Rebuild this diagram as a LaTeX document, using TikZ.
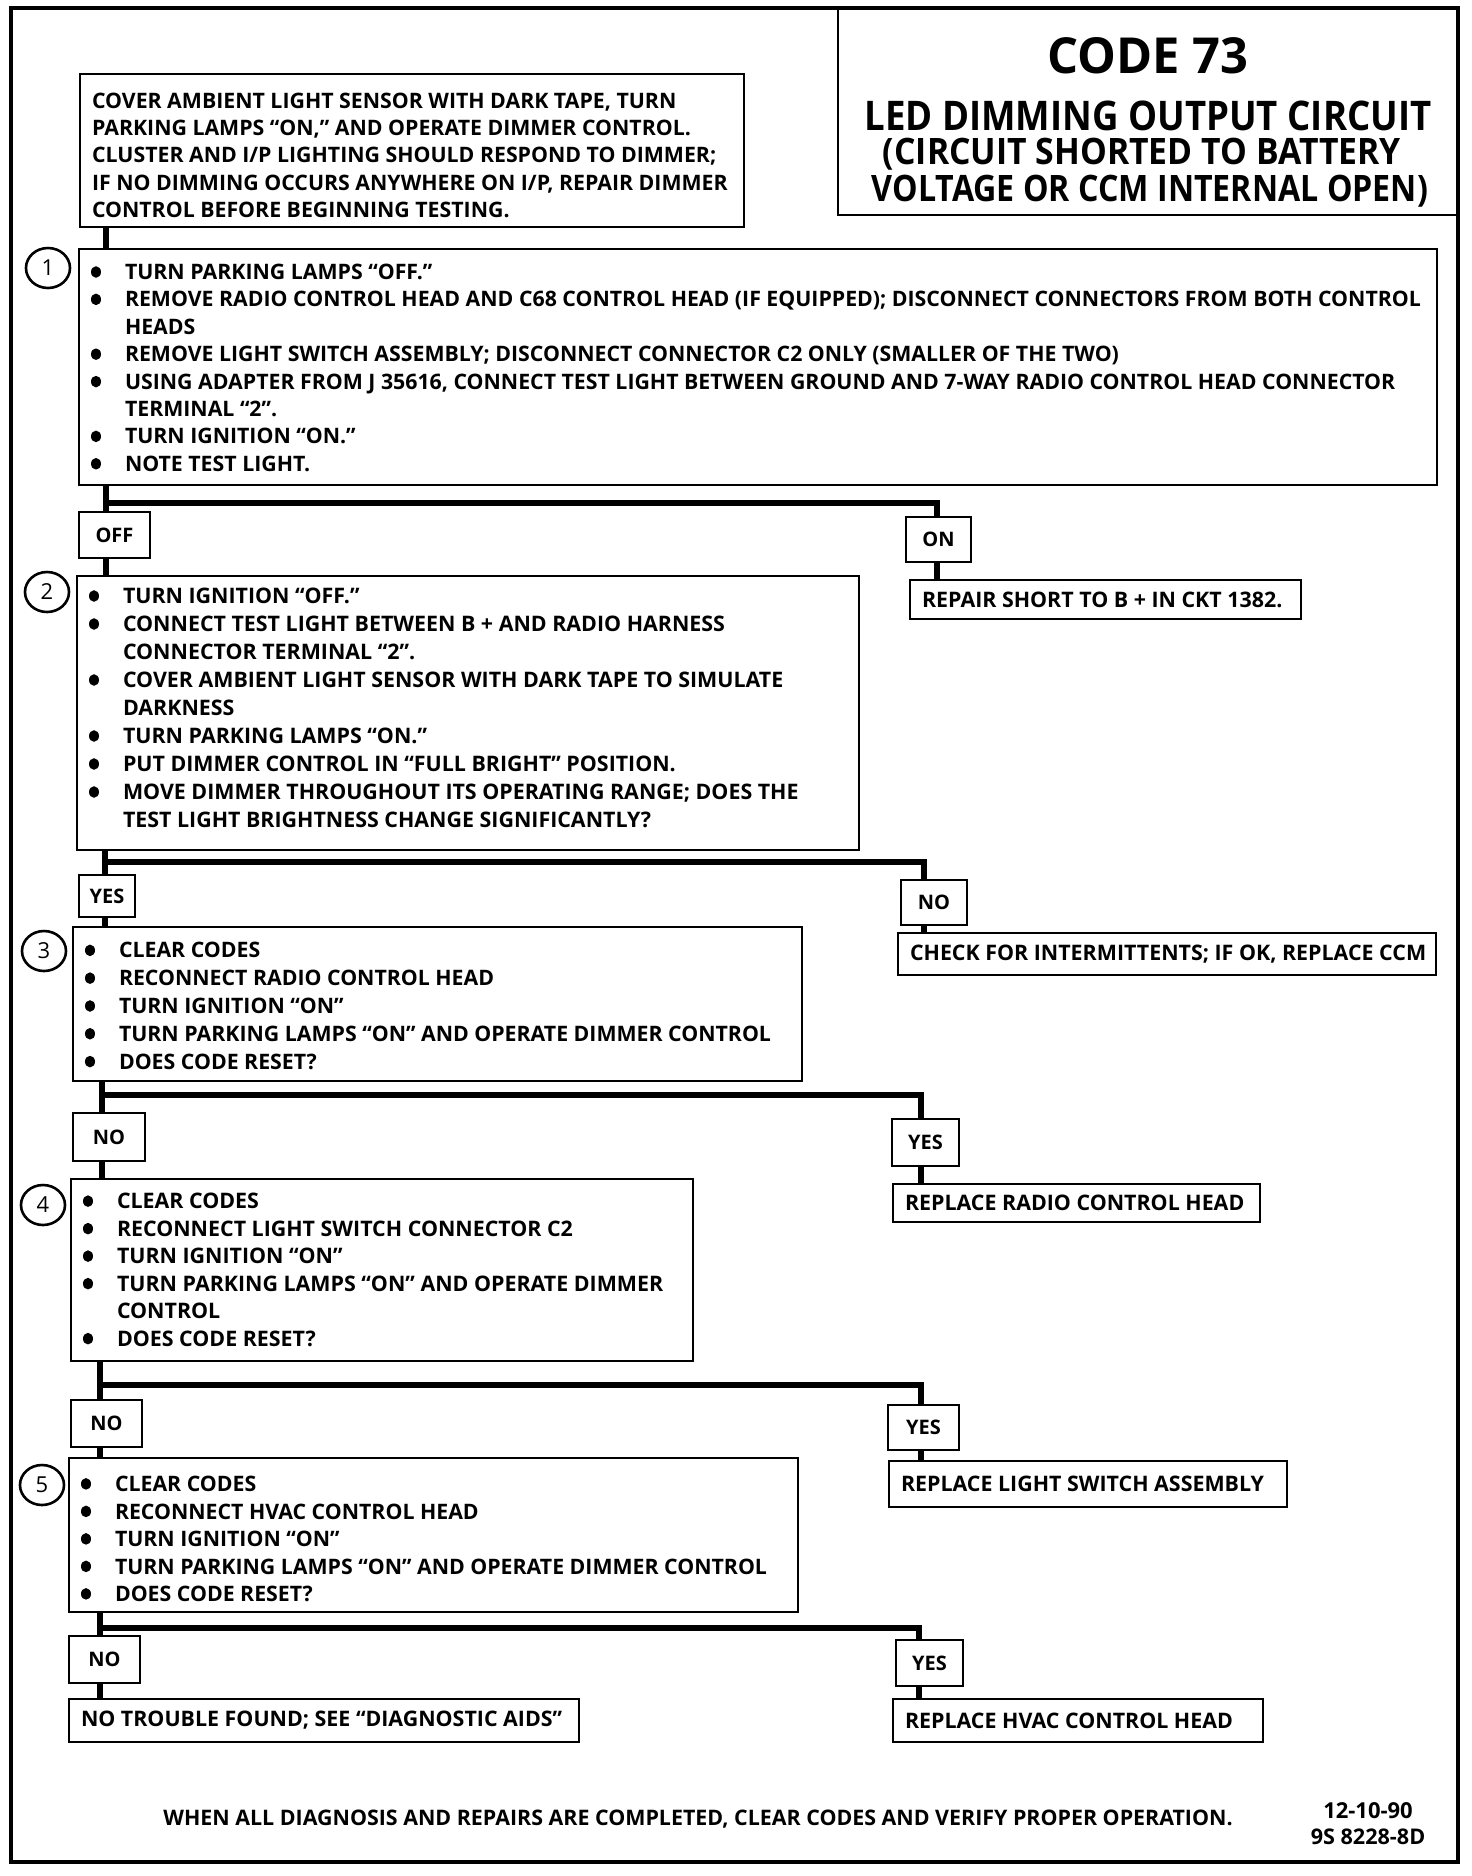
\documentclass[tikz,border=0pt]{standalone}
\usepackage{fontspec}
\setmainfont{Open Sans}
\usepackage{graphicx}
\usetikzlibrary{shapes.geometric}
\newcommand{\bul}{\tikz[baseline=0pt]\fill (2.4pt,3.8pt) ellipse [x radius=2.5pt, y radius=2.9pt];}
\newcommand{\lbx}[3][0pt]{\makebox[#2][l]{\hspace{6pt}\raisebox{-#1}[\height][\depth]{#3}}}
\newcommand{\rlbx}[2]{\makebox[#1][l]{\hspace{6pt}#2}}
\newcommand{\bodyfnt}{\fontsize{10.7}{13.75}\selectfont\bfseries}
\newenvironment{blist}{\begin{tabular}{@{}p{17pt}@{}l@{}}}{\end{tabular}}
\tikzset{
  box/.style={draw, line width=1.2pt, rectangle, anchor=north west, inner sep=0pt, outer sep=0pt},
  stepbox/.style={box, font=\bodyfnt},
  lbl/.style={box, font=\fontsize{10}{12}\selectfont\bfseries, align=center},
  res/.style={box, font=\fontsize{10.7}{12}\selectfont\bfseries},
  num/.style={draw, ellipse, line width=1.3pt, minimum width=22pt, minimum height=20pt, inner sep=0pt, font=\fontsize{11}{12}\selectfont},
  conn/.style={line width=3.3pt, line join=miter},
  ttl/.style={font=\bfseries, inner sep=0pt},
}
\begin{document}
\begin{tikzpicture}[x=0.5pt,y=-0.5pt]
\useasboundingbox (0,0) rectangle (1472,1876);
\draw[line width=1.8pt] (11,8) rectangle (1458,1862);

% title
\node[box, minimum width=310pt, minimum height=103.5pt] (title) at (838,8) {};
\node[ttl] (t1) at (1148,56) {\resizebox{100.5pt}{18pt}{CODE 73}};
\node[ttl] (t2) at (1148,116) {\resizebox{283.5pt}{14.8pt}{LED DIMMING OUTPUT CIRCUIT}};
\node[ttl] (t3) at (1142,154) {\resizebox{259pt}{13.2pt}{(CIRCUIT SHORTED TO BATTERY}};
\node[ttl] (t4) at (1150,191) {\resizebox{278pt}{13.2pt}{VOLTAGE OR CCM INTERNAL OPEN)}};

% intro
\node[stepbox, minimum height=76.5pt] (intro) at (80,74) {\lbx[3.5pt]{332pt}{\fontsize{10.65}{13.6}\selectfont\begin{tabular}{@{}l@{}}
COVER AMBIENT LIGHT SENSOR WITH DARK TAPE, TURN\\
PARKING LAMPS “ON,” AND OPERATE DIMMER CONTROL.\\
CLUSTER AND I/P LIGHTING SHOULD RESPOND TO DIMMER;\\
IF NO DIMMING OCCURS ANYWHERE ON I/P, REPAIR DIMMER\\
CONTROL BEFORE BEGINNING TESTING.
\end{tabular}}};

% step 1
\node[stepbox, minimum height=118pt] (s1) at (79,249) {\lbx[1.5pt]{679pt}{\fontsize{10.65}{13.7}\selectfont\begin{blist}
\bul & TURN PARKING LAMPS “OFF.”\\
\bul & REMOVE RADIO CONTROL HEAD AND C68 CONTROL HEAD (IF EQUIPPED); DISCONNECT CONNECTORS FROM BOTH CONTROL\\
 & HEADS\\
\bul & REMOVE LIGHT SWITCH ASSEMBLY; DISCONNECT CONNECTOR C2 ONLY (SMALLER OF THE TWO)\\
\bul & USING ADAPTER FROM J 35616, CONNECT TEST LIGHT BETWEEN GROUND AND 7-WAY RADIO CONTROL HEAD CONNECTOR\\
 & TERMINAL “2”.\\
\bul & TURN IGNITION “ON.”\\
\bul & NOTE TEST LIGHT.
\end{blist}}};
\node[num] (n1) at (48,268) {1};

\node[lbl, minimum width=35.5pt, minimum height=23pt] (off) at (79,512) {OFF};
\node[lbl, minimum width=32.5pt, minimum height=22.5pt] (on) at (906,517) {ON};
\node[res, minimum height=19.5pt] (rep) at (910,580) {\rlbx{195.5pt}{REPAIR SHORT TO B + IN CKT 1382.}};

% step 2
\node[stepbox, minimum height=137pt] (s2) at (77,576) {\lbx[-1.5pt]{391pt}{\fontsize{10.7}{14}\selectfont\begin{blist}
\bul & TURN IGNITION “OFF.”\\
\bul & CONNECT TEST LIGHT BETWEEN B + AND RADIO HARNESS\\
 & CONNECTOR TERMINAL “2”.\\
\bul & COVER AMBIENT LIGHT SENSOR WITH DARK TAPE TO SIMULATE\\
 & DARKNESS\\
\bul & TURN PARKING LAMPS “ON.”\\
\bul & PUT DIMMER CONTROL IN “FULL BRIGHT” POSITION.\\
\bul & MOVE DIMMER THROUGHOUT ITS OPERATING RANGE; DOES THE\\
 & TEST LIGHT BRIGHTNESS CHANGE SIGNIFICANTLY?
\end{blist}}};
\node[num] (n2) at (47,592) {2};

\node[lbl, minimum width=28pt, minimum height=21pt] (yes2) at (79,875) {YES};
\node[lbl, minimum width=33pt, minimum height=22.5pt] (no2) at (901,880) {NO};
\node[res, minimum height=21pt] (chk) at (898,933) {\rlbx{269pt}{CHECK FOR INTERMITTENTS; IF OK, REPLACE CCM}};

% step 3
\node[stepbox, minimum height=77pt] (s3) at (73,927) {\lbx[2pt]{364.5pt}{\fontsize{10.65}{13.9}\selectfont\begin{blist}
\bul & CLEAR CODES\\
\bul & RECONNECT RADIO CONTROL HEAD\\
\bul & TURN IGNITION “ON”\\
\bul & TURN PARKING LAMPS “ON” AND OPERATE DIMMER CONTROL\\
\bul & DOES CODE RESET?
\end{blist}}};
\node[num] (n3) at (44,951) {3};

\node[lbl, minimum width=36pt, minimum height=24pt] (no3) at (73,1113) {NO};
\node[lbl, minimum width=33.5pt, minimum height=23.5pt] (yes3) at (892,1119) {YES};
\node[res, minimum height=19pt] (rad) at (893,1184) {\rlbx{183.5pt}{REPLACE RADIO CONTROL HEAD}};

% step 4
\node[stepbox, minimum height=91pt] (s4) at (71,1179) {\lbx[1pt]{311pt}{\begin{blist}
\bul & CLEAR CODES\\
\bul & RECONNECT LIGHT SWITCH CONNECTOR C2\\
\bul & TURN IGNITION “ON”\\
\bul & TURN PARKING LAMPS “ON” AND OPERATE DIMMER\\
 & CONTROL\\
\bul & DOES CODE RESET?
\end{blist}}};
\node[num] (n4) at (43,1205) {4};

\node[lbl, minimum width=35.5pt, minimum height=23.5pt] (no4) at (71,1400) {NO};
\node[lbl, minimum width=35.5pt, minimum height=22.5pt] (yes4) at (888,1405) {YES};
\node[res, minimum height=23pt] (lsw) at (889,1461) {\rlbx{199pt}{REPLACE LIGHT SWITCH ASSEMBLY}};

% step 5
\node[stepbox, minimum height=77pt] (s5) at (69,1458) {\lbx[3pt]{364.5pt}{\fontsize{10.65}{13.75}\selectfont\begin{blist}
\bul & CLEAR CODES\\
\bul & RECONNECT HVAC CONTROL HEAD\\
\bul & TURN IGNITION “ON”\\
\bul & TURN PARKING LAMPS “ON” AND OPERATE DIMMER CONTROL\\
\bul & DOES CODE RESET?
\end{blist}}};
\node[num] (n5) at (42,1485) {5};

\node[lbl, minimum width=35.5pt, minimum height=23.5pt] (no5) at (69,1636) {NO};
\node[lbl, minimum width=33.5pt, minimum height=23pt] (yes5) at (896,1640) {YES};
\node[res, minimum height=21.5pt] (ntf) at (69,1699) {\rlbx{255pt}{NO TROUBLE FOUND; SEE “DIAGNOSTIC AIDS”}};
\node[res, minimum height=21.5pt] (hvac) at (893,1699) {\rlbx{185pt}{REPLACE HVAC CONTROL HEAD}};

% footer
\node[font=\fontsize{10.7}{12}\selectfont\bfseries] (foot) at (698,1819) {WHEN ALL DIAGNOSIS AND REPAIRS ARE COMPLETED, CLEAR CODES AND VERIFY PROPER OPERATION.};
\node[font=\fontsize{11}{12}\selectfont\bfseries] (d1) at (1368,1811) {12-10-90};
\node[font=\fontsize{10.8}{12}\selectfont\bfseries] (d2) at (1368,1837) {9S 8228-8D};

% connectors
\coordinate (c0) at (106,0);
\draw[conn] (intro.south -| c0) -- (s1.north -| c0);

\coordinate (j1) at (106,503); \coordinate (k1) at (937,503);
\draw[conn] (s1.south -| j1) -- (off.north -| j1);
\draw[conn] (j1) -- (k1) -- (on.north -| k1);
\draw[conn] (off.south -| j1) -- (s2.north -| j1);
\draw[conn] (on.south -| k1) -- (rep.north -| k1);

\coordinate (j2) at (105,862); \coordinate (k2) at (924,862);
\draw[conn] (s2.south -| j2) -- (yes2.north -| j2);
\draw[conn] (j2) -- (k2) -- (no2.north -| k2);
\draw[conn] (yes2.south -| j2) -- (s3.north -| j2);
\draw[conn] (no2.south -| k2) -- (chk.north -| k2);

\coordinate (j3) at (102,1095); \coordinate (k3) at (921,1095);
\draw[conn] (s3.south -| j3) -- (no3.north -| j3);
\draw[conn] (j3) -- (k3) -- (yes3.north -| k3);
\draw[conn] (no3.south -| j3) -- (s4.north -| j3);
\draw[conn] (yes3.south -| k3) -- (rad.north -| k3);

\coordinate (j4) at (100,1385); \coordinate (k4) at (921,1385);
\draw[conn] (s4.south -| j4) -- (no4.north -| j4);
\draw[conn] (j4) -- (k4) -- (yes4.north -| k4);
\draw[conn] (no4.south -| j4) -- (s5.north -| j4);
\draw[conn] (yes4.south -| k4) -- (lsw.north -| k4);

\coordinate (j5) at (100,1628); \coordinate (k5) at (919,1628);
\draw[conn] (s5.south -| j5) -- (no5.north -| j5);
\draw[conn] (j5) -- (k5) -- (yes5.north -| k5);
\draw[conn] (no5.south -| j5) -- (ntf.north -| j5);
\draw[conn] (yes5.south -| k5) -- (hvac.north -| k5);
\end{tikzpicture}
\end{document}
